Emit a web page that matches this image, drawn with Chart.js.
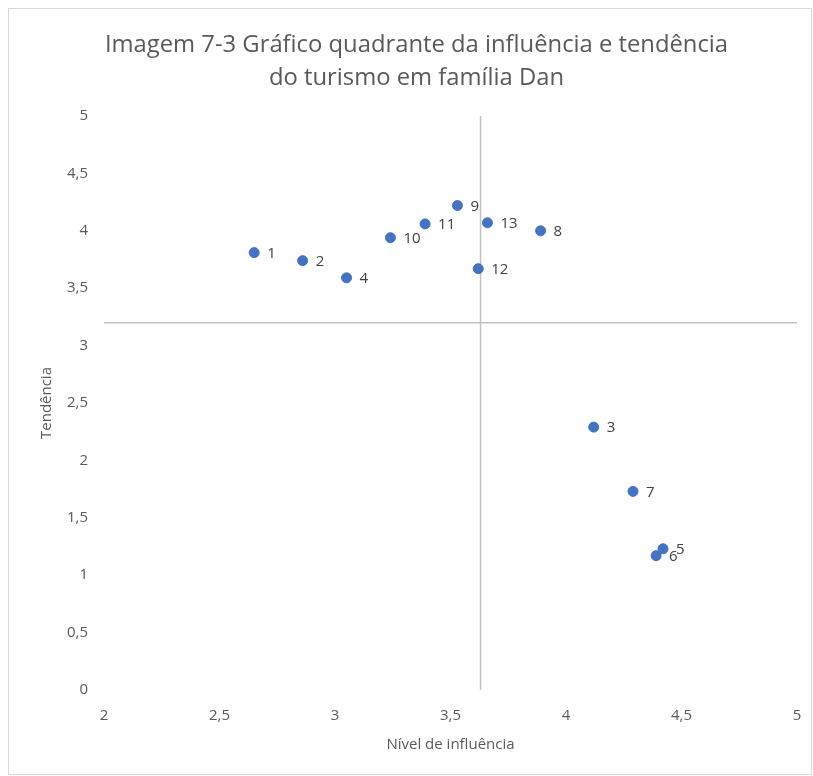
<!DOCTYPE html>
<html>
<head>
<meta charset="utf-8">
<script src="https://cdn.jsdelivr.net/npm/chart.js@4.4.1/dist/chart.umd.min.js"></script>
<style>
  html, body { margin:0; padding:0; background:#fff; }
  #wrap { position:relative; width:813px; height:776px; }
</style>
</head>
<body>
<div id="wrap"><canvas id="chart-quadrant"></canvas></div>
<script>
// pontos do gráfico (nível de influência x tendência)
var pointNames = ["1", "2", "3", "4", "5", "6", "7", "8", "9", "10", "11", "12", "13"];
var influencia = [2.65, 2.86, 4.12, 3.05, 4.42, 4.39, 4.29, 3.89, 3.53, 3.24, 3.39, 3.62, 3.66];
var tendencia  = [3.81, 3.74, 2.29, 3.59, 1.23, 1.17, 1.73, 4.00, 4.22, 3.94, 4.06, 3.67, 4.07];

// linhas dos quadrantes (cruzamento dos eixos)
var crossX = 3.63;
var crossY = 3.2;

var xTicks = [2, 2.5, 3, 3.5, 4, 4.5, 5];
var yTicks = [0, 0.5, 1, 1.5, 2, 2.5, 3, 3.5, 4, 4.5, 5];

var FONT = "'Open Sans', 'DejaVu Sans', sans-serif";
var GREY_TXT = "#595959";
var LINE_CLR = "#c3c3c3";

var points = influencia.map(function(v, i){ return {x:v, y:tendencia[i]}; });

// borda do gráfico
var framePlugin = {
  id:"frame",
  beforeDraw:function(chart){
    var ctx = chart.ctx;
    ctx.save();
    ctx.fillStyle = "#fff";
    ctx.fillRect(0, 0, chart.width, chart.height);
    ctx.strokeStyle = "#d9d9d9";
    ctx.lineWidth = 1;
    ctx.strokeRect(8.5, 8.5, 803, 766);
    ctx.restore();
  }
};

// rótulos dos pontos à direita
var labelPlugin = {
  id:"pointLabels",
  afterDatasetsDraw:function(chart){
    var ctx = chart.ctx;
    var meta = chart.getDatasetMeta(0);
    ctx.save();
    ctx.font = "15px " + FONT;
    ctx.fillStyle = "#404040";
    ctx.textAlign = "left";
    ctx.textBaseline = "middle";
    meta.data.forEach(function(pt, i){
      ctx.fillText(pointNames[i], pt.x + 13, pt.y + 1);
    });
    ctx.restore();
  }
};

var htmlTag = document.getElementById("chart-quadrant");
var configQuadrant = {
  type:"scatter",
  data:{
    datasets:[{
      label:"Pontos",
      data:points,
      backgroundColor:"#4472c4",
      borderColor:"#4472c4",
      pointRadius:5,
      pointHoverRadius:5,
      borderWidth:1,
      order:0
    },{
      label:"eixo vertical",
      type:"line",
      data:[{x:crossX, y:0}, {x:crossX, y:5}],
      borderColor:LINE_CLR,
      borderWidth:1.5,
      pointRadius:0,
      order:1
    },{
      label:"eixo horizontal",
      type:"line",
      data:[{x:2, y:crossY}, {x:5, y:crossY}],
      borderColor:LINE_CLR,
      borderWidth:1.5,
      pointRadius:0,
      order:1
    }]
  },
  options:{
    responsive:false,
    animation:false,
    layout:{ padding:{ left:36, right:16, top:8, bottom:8 } },
    plugins:{
      legend:{ display:false },
      tooltip:{ enabled:false },
      title:{
        display:true,
        text:["Imagem 7-3 Gráfico quadrante da influência e tendência", "do turismo em família Dan"],
        color:GREY_TXT,
        font:{ family:FONT, size:23.8, weight:"normal", lineHeight:33 / 23.8 },
        padding:{ top:20.5, bottom:21.5 }
      }
    },
    scales:{
      x:{
        type:"linear",
        min:2, max:5,
        afterBuildTicks:function(scale){ scale.ticks = xTicks.map(function(v){ return {value:v}; }); },
        afterFit:function(scale){ scale.height = 78; scale.paddingLeft = 0; scale.paddingRight = 0; },
        grid:{ display:false, drawTicks:false },
        border:{ display:false },
        ticks:{
          color:GREY_TXT, padding:17,
          font:{ family:FONT, size:15 },
          callback:function(v){ return String(v).replace(".", ","); }
        },
        title:{
          display:true, text:"Nível de influência", color:GREY_TXT,
          font:{ family:FONT, size:15 },
          padding:{ top:0, bottom:14 }
        }
      },
      y:{
        type:"linear",
        min:0, max:5,
        afterBuildTicks:function(scale){ scale.ticks = yTicks.map(function(v){ return {value:v}; }); },
        afterFit:function(scale){ scale.width = 68; },
        grid:{ display:false, drawTicks:false },
        border:{ display:false },
        ticks:{
          color:GREY_TXT, padding:16,
          font:{ family:FONT, size:15 },
          callback:function(v){ return String(v).replace(".", ","); }
        },
        title:{
          display:true, text:"Tendência", color:GREY_TXT,
          font:{ family:FONT, size:15 },
          padding:{ top:2, bottom:0 }
        }
      }
    }
  },
  plugins:[framePlugin, labelPlugin]
};

htmlTag.width = 813;
htmlTag.height = 776;
var chartQuadrant = new Chart(htmlTag, configQuadrant);
</script>
</body>
</html>
